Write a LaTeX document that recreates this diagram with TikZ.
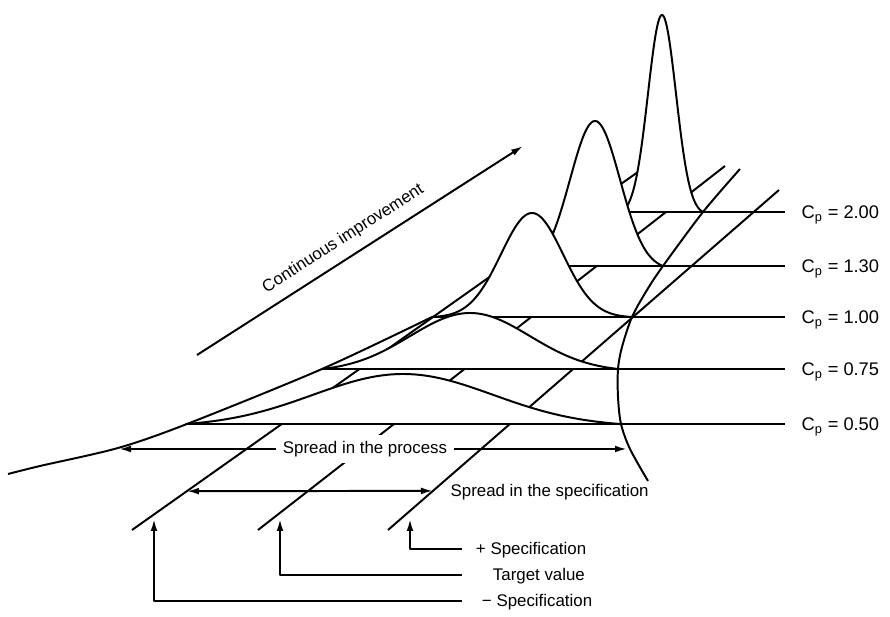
\documentclass[tikz,border=0pt]{standalone}
\usepackage{fontspec}
\setmainfont{Liberation Sans}
\usetikzlibrary{arrows.meta, calc}

\begin{document}
\begin{tikzpicture}[x=0.25mm, y=-0.25mm, line width=1.4pt, line join=round,
    font=\fontsize{12}{14}\selectfont,
    tip/.style={-{Latex[length=3mm, width=1.7mm]}},
    twotip/.style={{Latex[length=3mm, width=1.7mm]}-{Latex[length=3mm, width=1.7mm]}},
    cplabel/.style={anchor=base west, font=\fontsize{13}{15}\selectfont},
    leader/.style={anchor=base west, inner sep=0pt}]
    \useasboundingbox (0,0) rectangle (890,617);

    %spec lines
    \coordinate (lslA) at (132,530);
    \coordinate (lslB) at (645,167);
    \coordinate (tgtA) at (258,530);
    \coordinate (tgtB) at (725,166);
    \coordinate (uslA) at (388,530);
    \coordinate (uslB) at (779,190);
    \draw (lslA) -- (lslB);
    \draw (tgtA) -- (tgtB);
    \draw (uslA) -- (uslB);

    %process spread
    \draw plot[smooth] coordinates {(8,474) (40,466) (118,448) (187,424) (322,369) (432,317)};
    \draw plot[smooth] coordinates {(648,481) (630,449) (621,424) (618,397) (618,369)
        (622,347) (632,317) (647,290) (663,266) (703,212) (740,169)};

    %distributions, back to front
    \foreach \mn/\sd/\hw/\pk/\yb/\cp [count=\i] in {662/14/41/197/212/2.00,
        595/25/68/145/266/1.30, 532/31/100/104/317/1.00,
        470/60/148/56/369/0.75, 403/90/217/50/424/0.50} {
        \pgfmathsetmacro\xa{\mn-\hw}
        \pgfmathsetmacro\xb{\mn+\hw}
        \pgfmathsetmacro\ee{exp(-0.5*(\hw/\sd)*(\hw/\sd))}
        \filldraw[fill=white] plot[domain=\xa:\xb, samples=100]
            (\x, {\yb-\pk*(exp(-0.5*((\x-\mn)/\sd)*((\x-\mn)/\sd))-\ee)/(1-\ee)}) -- cycle;
        \draw (\xa,\yb) -- (785,\yb);
        \node[cplabel] (cp\i) at (796,\yb+7) {C\textsubscript{p} = \cp};
    }

    %continuous improvement
    \coordinate (ciA) at (197,355);
    \coordinate (ciB) at (523,146);
    \draw[tip] (ciA) -- node[sloped, anchor=south, inner ysep=2.5mm, pos=0.48] (ciLbl) {Continuous improvement} (ciB);

    %spread in the process
    \coordinate (procL) at (119,449);
    \coordinate (procR) at (627,449);
    \node[fill=white, inner sep=1.5mm] (procLbl) at (365,449) {Spread in the process};
    \draw[tip] (procLbl.west) -- (procL);
    \draw[tip] (procLbl.east) -- (procR);

    %spread in the specification
    \coordinate (specL) at ($(lslA)!0.107!(lslB)$);
    \coordinate (specR) at ($(uslA)!0.115!(uslB)$);
    \draw[twotip] (specL) -- (specR);
    \node[anchor=west] (specLbl) at (445,492) {Spread in the specification};

    %leaders
    \node[leader] (uslLbl) at (475,555) {+ Specification};
    \node[leader] (tgtLbl) at (492,581) {Target value};
    \node[leader] (lslLbl) at (481,607) {− Specification};
    \coordinate (uslEnd) at (462,549);
    \coordinate (tgtEnd) at (462,575);
    \coordinate (lslEnd) at (462,601);
    \coordinate (uslTip) at (410,519);
    \coordinate (tgtTip) at (280,519);
    \coordinate (lslTip) at (154,519);
    \draw[tip] (uslEnd) -| (uslTip);
    \draw[tip] (tgtEnd) -| (tgtTip);
    \draw[tip] (lslEnd) -| (lslTip);
\end{tikzpicture}
\end{document}
